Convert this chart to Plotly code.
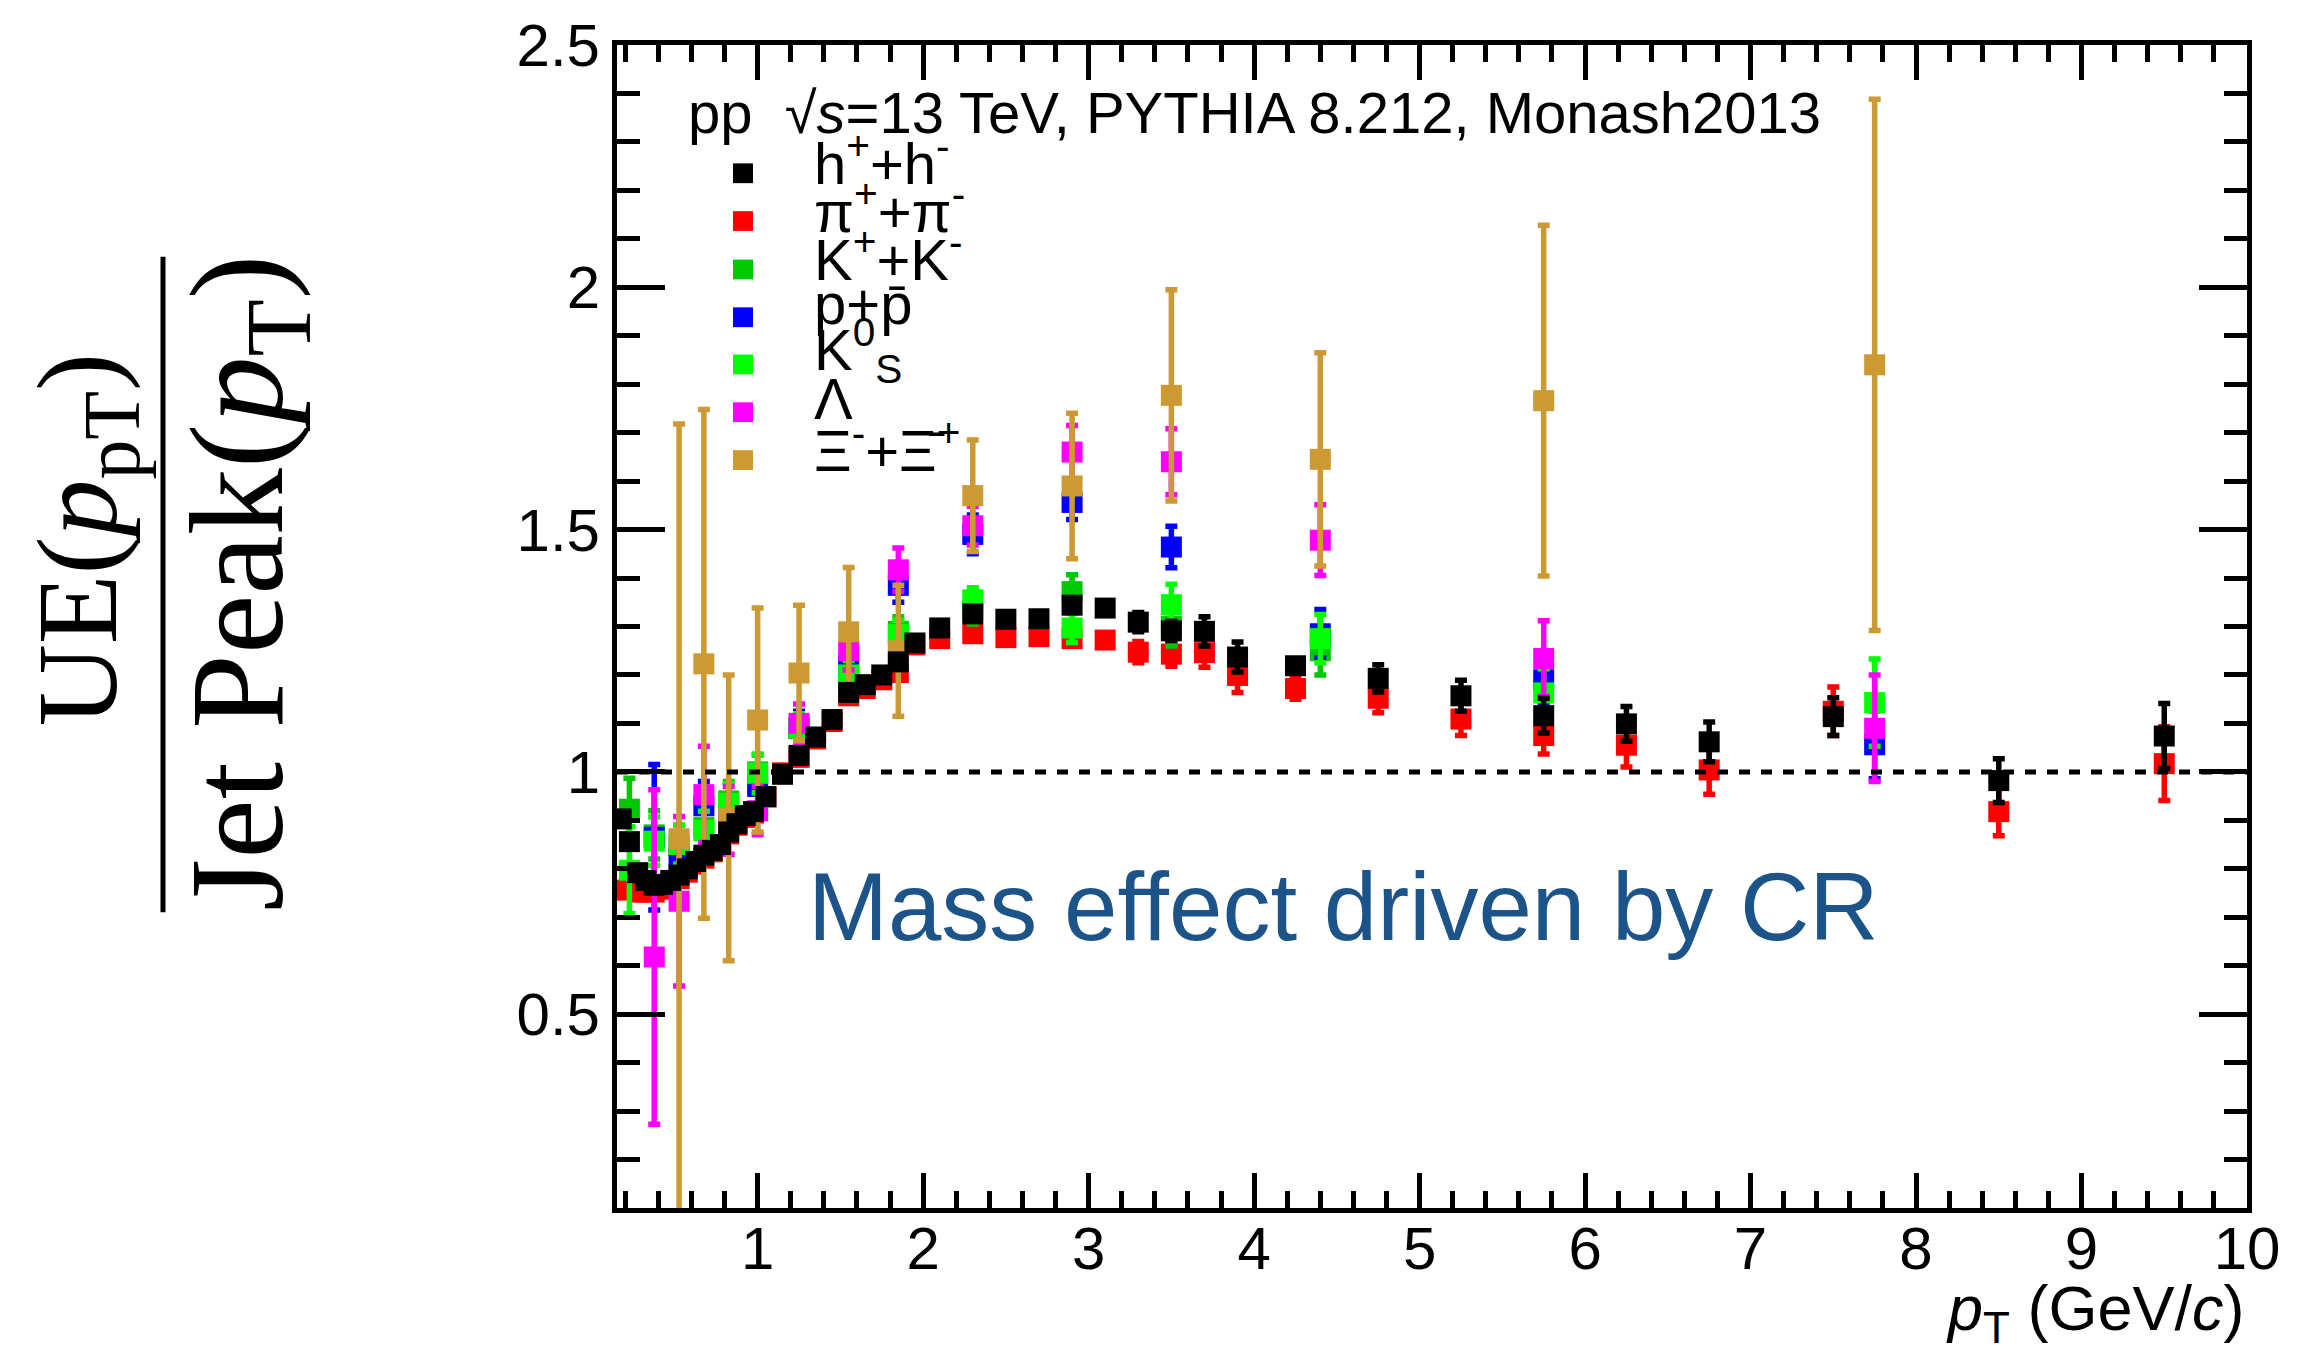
import plotly.graph_objects as go

# ---------------- data ----------------
# fine pT binning (charged hadrons and pions)
pt_fine = [0.175, 0.225, 0.275, 0.325, 0.375, 0.425, 0.475, 0.525, 0.575, 0.625,
           0.675, 0.725, 0.775, 0.825, 0.875, 0.925, 0.975,
           1.05, 1.15, 1.25, 1.35, 1.45, 1.55, 1.65, 1.75, 1.85, 1.95,
           2.1, 2.3, 2.5, 2.7, 2.9, 3.1, 3.3, 3.5, 3.7, 3.9,
           4.25, 4.75, 5.25, 5.75, 6.25, 6.75,
           7.5, 8.5, 9.5]

h_ratio = [0.903, 0.856, 0.792, 0.776, 0.766, 0.768, 0.776, 0.787, 0.800, 0.815,
           0.828, 0.838, 0.850, 0.876, 0.893, 0.910, 0.918,
           0.949, 0.995, 1.034, 1.072, 1.108, 1.164, 1.180, 1.200, 1.227, 1.266,
           1.297, 1.326, 1.315, 1.316, 1.344, 1.338, 1.309, 1.291, 1.290, 1.237,
           1.219, 1.193, 1.157, 1.116, 1.099, 1.062,
           1.114, 0.982, 1.074]
h_err = [0.006] * 17 + [0.006] * 10 + \
        [0.006, 0.006, 0.008, 0.008, 0.010, 0.010, 0.020, 0.020, 0.030, 0.031] + \
        [0.012, 0.028, 0.032, 0.036, 0.036, 0.041] + [0.039, 0.045, 0.067]

pi_ratio = [0.756, 0.762, 0.752, 0.752, 0.752, 0.758, 0.768, 0.780, 0.793, 0.810,
            0.822, 0.835, 0.850, 0.872, 0.890, 0.906, 0.915,
            0.948, 0.998, 1.030, 1.068, 1.104, 1.157, 1.172, 1.190, 1.205, 1.262,
            1.275, 1.285, 1.277, 1.279, 1.275, 1.272, 1.247, 1.243, 1.246, 1.199,
            1.172, 1.152, 1.109, 1.075, 1.055, 1.004,
            1.125, 0.918, 1.017]
pi_err = [0.006] * 17 + [0.006] * 10 + \
         [0.008, 0.008, 0.008, 0.008, 0.010, 0.015, 0.022, 0.025, 0.030, 0.035] + \
         [0.022, 0.030, 0.034, 0.038, 0.045, 0.050] + [0.050, 0.050, 0.076]

# coarse pT binning (identified species)
pt_coarse = [0.225, 0.375, 0.525, 0.675, 0.825, 1.0, 1.25, 1.55, 1.85,
             2.3, 2.9, 3.5, 4.4, 5.75, 7.75]

kch_ratio = [0.923, 0.870, 0.845, 0.885, 0.940, 1.000, 1.090, 1.210, 1.290,
             1.335, 1.372, 1.300, 1.250]
kch_err = [0.064, 0.050, 0.045, 0.040, 0.040, 0.035, 0.030, 0.030, 0.030,
           0.030, 0.035, 0.040, 0.050]

k0s_ratio = [0.797, 0.857, 0.850, 0.879, 0.935, 0.997, 1.090, 1.200, 1.283,
             1.355, 1.297, 1.345, 1.275, 1.163, 1.143]
k0s_err = [0.090, 0.050, 0.040, 0.040, 0.040, 0.040, 0.030, 0.030, 0.030,
           0.025, 0.030, 0.042, 0.050, 0.050, 0.090]

p_ratio = [0.865, 0.825, 0.930, 0.900, 0.970, 1.090, 1.220, 1.385,
           1.490, 1.556, 1.464, 1.285, 1.190, 1.056]
p_err = [0.150, 0.040, 0.050, 0.040, 0.040, 0.035, 0.035, 0.035,
         0.040, 0.035, 0.043, 0.050, 0.050, 0.070]

lam_ratio = [0.618, 0.733, 0.953, 0.900, 0.920, 1.100, 1.250, 1.417,
             1.508, 1.660, 1.640, 1.478, 1.234, 1.090]
lam_err = [0.345, 0.175, 0.100, 0.070, 0.050, 0.040, 0.040, 0.045,
           0.040, 0.055, 0.068, 0.073, 0.078, 0.110]

xi_ratio = [0.862, 1.223, 0.905, 1.107, 1.204, 1.289, 1.250,
            1.570, 1.590, 1.777, 1.645, 1.766, 1.840]
xi_err = [0.856, 0.525, 0.295, 0.231, 0.140, 0.133, 0.135,
          0.115, 0.150, 0.218, 0.220, 0.362, 0.548]

unity = 1.0

legend_labels = ["h<sup>+</sup>+h<sup>-</sup>",
                 "π<sup>+</sup>+π<sup>-</sup>",
                 "K<sup>+</sup>+K<sup>-</sup>",
                 "p+p\u0304",
                 "K<sup>0</sup><sub>S</sub>",
                 "Λ",
                 "Ξ<sup>-</sup>+Ξ\u0304<sup>+</sup>"]
legend_colors = ["#000000", "#ff0000", "#00c800", "#0000ff",
                 "#00ff00", "#ff00ff", "#cc9933"]

# ---------------- figure ----------------
W, H = 2302, 1365
ML, MR, MT, MB = 617, 55, 32, 157
PW, PH = W - ML - MR, H - MT - MB
FONT = "Liberation Sans, Arial, Helvetica, sans-serif"
SERIF = "Liberation Serif, Times New Roman, serif"


def px_x(X):
    return (X - ML) / PW


def px_y(Y):
    return (H - MB - Y) / PH


fig = go.Figure()


def add_series(x, y, err, color):
    n = len(y)
    fig.add_trace(go.Scatter(
        x=x[:n], y=y, mode="markers",
        marker=dict(symbol="square", size=21, color=color, line=dict(width=0)),
        error_y=dict(type="data", array=err, visible=True, color=color,
                     thickness=5.5, width=6),
        showlegend=False, hoverinfo="x+y"))


# drawing order: pions first, charged hadrons on top
add_series(pt_fine, pi_ratio, pi_err, legend_colors[1])
add_series(pt_coarse, kch_ratio, kch_err, legend_colors[2])
add_series(pt_coarse[1:], p_ratio, p_err, legend_colors[3])
add_series(pt_coarse, k0s_ratio, k0s_err, legend_colors[4])
add_series(pt_coarse[1:], lam_ratio, lam_err, legend_colors[5])
add_series(pt_coarse[2:], xi_ratio, xi_err, legend_colors[6])
add_series(pt_fine, h_ratio, h_err, legend_colors[0])

# dashed reference line at unity
fig.add_shape(type="line", xref="x", yref="y", x0=0.15, x1=10, y0=unity, y1=unity,
              line=dict(color="black", width=5, dash="11px,11px"), layer="above")

axis_common = dict(showline=True, linewidth=5, linecolor="black", mirror="ticks",
                   ticks="inside", tickwidth=4.5, tickcolor="black",
                   showgrid=False, zeroline=False, ticklabeloverflow="allow",
                   tickfont=dict(family=FONT, size=60, color="black"))

fig.update_xaxes(range=[0.15, 10], tick0=0, dtick=1, ticklen=35,
                 ticklabelstandoff=-16,
                 minor=dict(dtick=0.2, tick0=0, ticklen=17, tickwidth=4.5,
                            tickcolor="black", ticks="inside", showgrid=False),
                 **axis_common)
fig.update_yaxes(range=[0.1, 2.5], tick0=0, dtick=0.5, ticklen=48,
                 ticklabelstandoff=0,
                 minor=dict(dtick=0.1, tick0=0, ticklen=23, tickwidth=4.5,
                            tickcolor="black", ticks="inside", showgrid=False),
                 **axis_common)

ann = []
# header line
ann.append(dict(text="pp  √<i>s</i>=13 TeV, PYTHIA 8.212, Monash2013",
                x=px_x(686), y=px_y(100), xref="paper", yref="paper",
                xanchor="left", yanchor="middle", showarrow=False,
                font=dict(family=FONT, size=58, color="black")))

# legend block
row_y = [161.7, 210, 259, 307.3, 355, 403.3, 451.7]
for lab, col, yy in zip(legend_labels, legend_colors, row_y):
    fig.add_shape(type="rect", xref="paper", yref="paper",
                  x0=px_x(733), x1=px_x(753), y0=px_y(yy - 10), y1=px_y(yy + 10),
                  fillcolor=col, line=dict(width=0), layer="above")
    ann.append(dict(text=lab, x=px_x(812), y=px_y(yy - 14), xref="paper", yref="paper",
                    xanchor="left", yanchor="middle", showarrow=False,
                    font=dict(family=FONT, size=58, color="black")))

# in-plot note
ann.append(dict(text="Mass effect driven by CR", x=px_x(1343), y=px_y(903),
                xref="paper", yref="paper", xanchor="center", yanchor="middle",
                showarrow=False, font=dict(family=FONT, size=96, color="#1c5489")))

# x-axis title
ann.append(dict(text="<i>p</i><sub>T</sub> (GeV/<i>c</i>)", x=1.0, y=px_y(1314),
                xref="paper", yref="paper", xanchor="right", yanchor="middle",
                showarrow=False, font=dict(family=FONT, size=63, color="black")))

# y-axis title as a fraction
ann.append(dict(text="UE(<i>p</i><sub>pT</sub>)", x=px_x(85), y=px_y(532),
                xref="paper", yref="paper", xanchor="center", yanchor="middle",
                textangle=-90, showarrow=False,
                font=dict(family=SERIF, size=114, color="black")))
ann.append(dict(text="Jet Peak(<i>p</i><sub>T</sub>)", x=px_x(247), y=px_y(576),
                xref="paper", yref="paper", xanchor="center", yanchor="middle",
                textangle=-90, showarrow=False,
                font=dict(family=SERIF, size=134, color="black")))
fig.add_shape(type="line", xref="paper", yref="paper",
              x0=px_x(163), x1=px_x(163), y0=px_y(246), y1=px_y(909),
              line=dict(color="black", width=5))

fig.update_layout(width=W, height=H,
                  margin=dict(l=ML, r=MR, t=MT, b=MB, pad=0),
                  paper_bgcolor="white", plot_bgcolor="white",
                  annotations=ann, showlegend=False)

fig.write_html("out.html")
